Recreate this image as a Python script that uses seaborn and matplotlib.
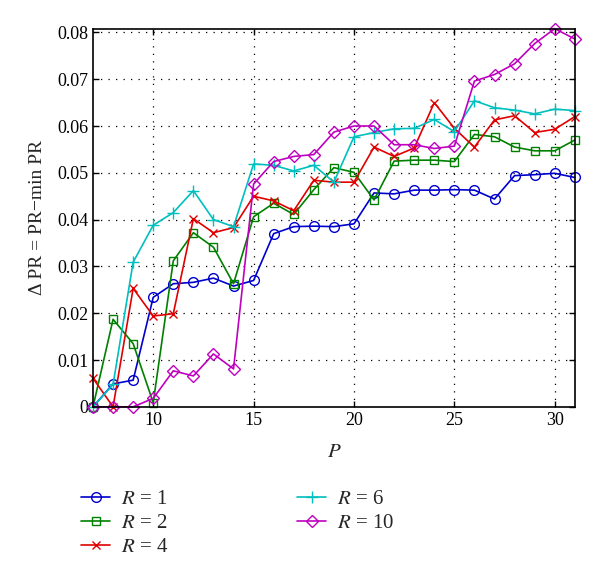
import numpy as np
import pandas as pd
import seaborn as sns
import matplotlib
matplotlib.use('Agg')
import matplotlib.pyplot as plt

# Data
P = list(range(7, 32))

r1 = [0.0, 0.0049, 0.0057, 0.0234, 0.0263, 0.0266, 0.0275, 0.0258, 0.0270,
      0.0370, 0.0385, 0.0386, 0.0385, 0.0391, 0.0457, 0.0455, 0.0463, 0.0463,
      0.0464, 0.0463, 0.0444, 0.0494, 0.0496, 0.0499, 0.0490]
r2 = [0.0, 0.0187, 0.0135, 0.0009, 0.0312, 0.0372, 0.0341, 0.0263, 0.0406,
      0.0435, 0.0411, 0.0464, 0.0511, 0.0501, 0.0442, 0.0525, 0.0527, 0.0527,
      0.0524, 0.0582, 0.0577, 0.0555, 0.0547, 0.0547, 0.0570]
r4 = [0.0061, 0.0, 0.0253, 0.0194, 0.0199, 0.0402, 0.0372, 0.0383, 0.0450,
      0.0440, 0.0419, 0.0484, 0.0480, 0.0480, 0.0555, 0.0535, 0.0553, 0.0650,
      0.0595, 0.0555, 0.0613, 0.0622, 0.0586, 0.0593, 0.0620]
r6 = [0.0, 0.0048, 0.0309, 0.0388, 0.0415, 0.0462, 0.0400, 0.0385, 0.0519,
      0.0516, 0.0504, 0.0516, 0.0480, 0.0577, 0.0586, 0.0594, 0.0595, 0.0614,
      0.0588, 0.0654, 0.0639, 0.0634, 0.0626, 0.0636, 0.0633]
r10 = [0.0, 0.0, 0.0, 0.0018, 0.0077, 0.0066, 0.0113, 0.0081, 0.0476,
       0.0524, 0.0535, 0.0539, 0.0587, 0.0600, 0.0600, 0.0560, 0.0560, 0.0552,
       0.0557, 0.0696, 0.0710, 0.0733, 0.0776, 0.0808, 0.0786]

labels = ['$R$ = 1', '$R$ = 2', '$R$ = 4', '$R$ = 6', '$R$ = 10']
series = [r1, r2, r4, r6, r10]
colors = ['#0000cc', '#008000', '#e00000', '#00bfbf', '#bf00bf']
markers = ['o', 's', 'x', '+', 'D']
msizes = [7, 6, 6, 8, 6]

sns.set_style('ticks')
plt.rcParams['font.family'] = ['Liberation Serif', 'DejaVu Serif']
plt.rcParams['mathtext.fontset'] = 'stix'
plt.rcParams['xtick.direction'] = 'in'
plt.rcParams['ytick.direction'] = 'in'

fig = plt.figure(figsize=(6.0, 5.73), dpi=100)
ax = fig.add_axes([0.155, 0.29, 0.803, 0.66])

for vals, lab, c, m, ms in zip(series, labels, colors, markers, msizes):
    sns.lineplot(x=P, y=vals, ax=ax, color=c, marker=m, markersize=ms,
                 markerfacecolor='none', markeredgecolor=c, markeredgewidth=1.0,
                 linewidth=1.2, label=lab, clip_on=False)

ax.set_xlim(7, 31)
ax.set_ylim(0, 0.0808)
ax.set_xticks([10, 15, 20, 25, 30])
ax.set_yticks(np.arange(0, 0.081, 0.01))
ax.set_yticklabels(['0'] + ['%.2f' % v for v in np.arange(0.01, 0.081, 0.01)])
ax.tick_params(top=True, right=True, labelsize=13, length=4, width=1, colors='black')
ax.grid(True, linestyle=(0, (1, 5)), color='black', linewidth=0.9)
for s in ax.spines.values():
    s.set_visible(True)
    s.set_linewidth(1.2)
    s.set_color('black')

ax.set_xlabel('$P$', fontsize=15, labelpad=10)
ax.set_ylabel('Δ PR = PR−min PR', fontsize=14, labelpad=8)

handles, labs = ax.get_legend_handles_labels()
ax.legend(handles, labs, ncol=2, frameon=False, fontsize=15,
          loc='upper left', bbox_to_anchor=(0.135, 0.145), bbox_transform=fig.transFigure,
          borderaxespad=0, borderpad=0,
          columnspacing=6.2, handlelength=1.4, labelspacing=0.2, handletextpad=0.5)

fig.savefig('out.png', dpi=100)
